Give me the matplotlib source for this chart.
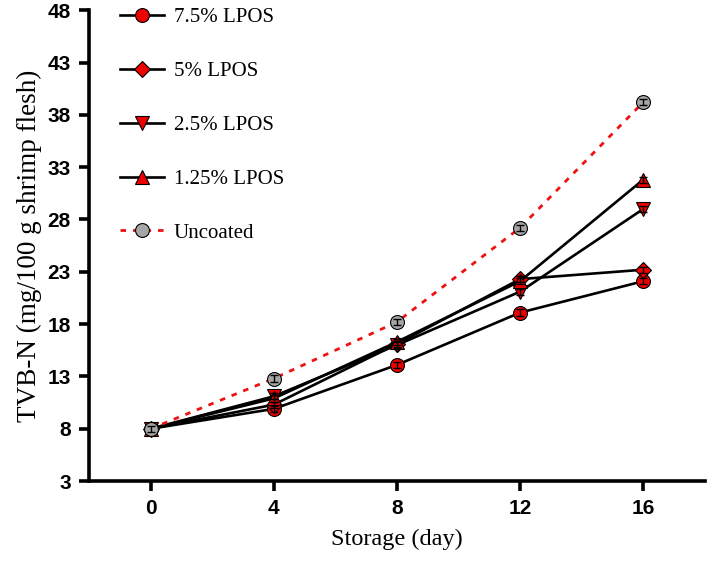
import matplotlib.pyplot as plt
import numpy as np

# ---------- datos ----------
days = [0, 4, 8, 12, 16]
lpos75 = [8.0, 9.9, 14.1, 19.1, 22.1]
lpos5 = [8.0, 10.3, 16.1, 22.3, 23.2]
lpos25 = [8.0, 11.1, 16.0, 21.1, 29.0]
lpos125 = [8.0, 10.9, 16.3, 22.1, 31.8]
uncoated = [8.0, 12.8, 18.2, 27.2, 39.2]
sd = [0.3, 0.3, 0.3, 0.3, 0.3]

labels = ['7.5% LPOS', '5% LPOS', '2.5% LPOS', '1.25% LPOS', 'Uncoated']
yticks = [3, 8, 13, 18, 23, 28, 33, 38, 43, 48]
xticks = [0, 4, 8, 12, 16]

serif = 'Liberation Serif'
sans = 'Liberation Sans'

fig = plt.figure(figsize=(7.09, 5.66), dpi=100)
ax = fig.add_axes([0.1255, 0.15, 0.994 - 0.1255, 0.982 - 0.15])

series = [lpos75, lpos5, lpos25, lpos125]
markers = ['o', 'D', 'v', '^']
msizes = [10, 8.5, 10, 10]
for vals, m, ms, lab in zip(series, markers, msizes, labels[:4]):
    ax.plot(days, vals, '-', color='black', lw=1.9, marker=m, ms=ms,
            mfc='#ee0000', mec='black', mew=0.8, label=lab, zorder=3)
    ax.errorbar(days, vals, yerr=sd, fmt='none', ecolor='black',
                elinewidth=1.0, capsize=3, capthick=1.0, zorder=4)

ax.plot(days, uncoated, color='#ee1111', lw=2, ls=(0, (2, 2.5)),
        marker='o', ms=10, mfc='#a6a6a6', mec='black', mew=0.8,
        label=labels[4], zorder=5)
ax.errorbar(days, uncoated, yerr=sd, fmt='none', ecolor='black',
            elinewidth=1.0, capsize=3, capthick=1.0, zorder=6)

ax.set_xlim(-2, 18)
ax.set_ylim(3, 48)
ax.set_xticks(xticks)
ax.set_yticks(yticks)
ax.spines['top'].set_visible(False)
ax.spines['right'].set_visible(False)
ax.spines['left'].set_linewidth(2.6)
ax.spines['bottom'].set_linewidth(2.6)
ax.tick_params(width=2.6, length=7, pad=6)
for t in ax.get_xticklabels() + ax.get_yticklabels():
    t.set_fontfamily(sans)
    t.set_fontweight('bold')
    t.set_fontsize(15)

ax.set_xlabel('Storage (day)', fontfamily=serif, fontsize=17.5, labelpad=8)
ax.set_ylabel('TVB-N (mg/100 g shrimp flesh)', fontfamily=serif,
              fontsize=19.5, labelpad=4)

leg = ax.legend(loc='upper left', bbox_to_anchor=(0.05, 1.006), frameon=False,
                prop={'family': serif, 'size': 15}, handlelength=2.1,
                handletextpad=0.5, labelspacing=1.65, borderpad=0,
                borderaxespad=0)

fig.savefig('out.png', dpi=100)
